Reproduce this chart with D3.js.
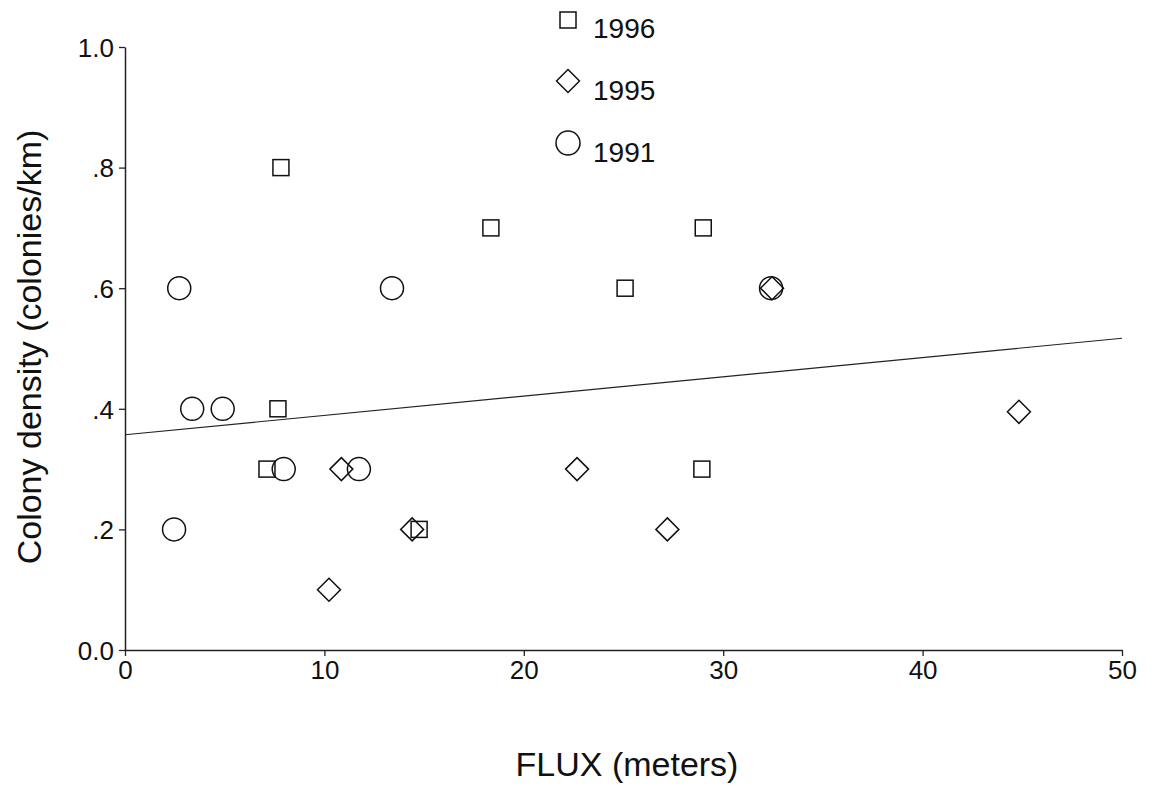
<!DOCTYPE html>
<html>
<head>
<meta charset="utf-8">
<script src="https://cdn.jsdelivr.net/npm/d3@7"></script>
<style>
html,body{margin:0;padding:0;background:#fff;}
svg{display:block;}
text{font-family:"Liberation Sans", Arial, sans-serif; fill:#111;}
</style>
</head>
<body>
<svg id="chart" width="1154" height="788"></svg>
<script>
// Data
const squares1996X = [7.82, 18.35, 29.0, 25.08, 7.67, 7.12, 14.75, 28.93];
const squares1996Y = [0.8, 0.7, 0.7, 0.6, 0.4, 0.3, 0.2, 0.3];
const diamonds1995X = [10.23, 10.85, 14.4, 22.67, 27.2, 32.45, 44.83];
const diamonds1995Y = [0.1, 0.3, 0.2, 0.3, 0.2, 0.6, 0.395];
const circles1991X = [2.46, 2.72, 3.37, 4.9, 7.96, 11.73, 13.39, 32.4];
const circles1991Y = [0.2, 0.6, 0.4, 0.4, 0.3, 0.3, 0.6, 0.6];
const fitX = [0, 50];
const fitY = [0.357, 0.517];
const xTicks = [0, 10, 20, 30, 40, 50];
const xTickLabels = ["0", "10", "20", "30", "40", "50"];
const yTicks = [0, 0.2, 0.4, 0.6, 0.8, 1.0];
const yTickLabels = ["0.0", ".2", ".4", ".6", ".8", "1.0"];
const legendLabels = ["1996", "1995", "1991"];

const svg = d3.select("#chart");
const x = d3.scaleLinear().domain([0, 50]).range([125, 1122]);
const y = d3.scaleLinear().domain([0, 1]).range([650, 47]);

// Axes
const xAxis = d3.axisBottom(x).tickValues(xTicks)
  .tickFormat((d, i) => xTickLabels[i]).tickSize(6).tickSizeOuter(0);
const yAxis = d3.axisLeft(y).tickValues(yTicks)
  .tickFormat((d, i) => yTickLabels[i]).tickSize(6).tickSizeOuter(0);

const gx = svg.append("g").attr("transform", "translate(0,650)").call(xAxis);
const gy = svg.append("g").attr("transform", "translate(125,0)").call(yAxis);
[gx, gy].forEach(g => {
  g.select(".domain").attr("stroke", "#222").attr("stroke-width", 1.5);
  g.selectAll(".tick line").attr("stroke", "#222").attr("stroke-width", 1.3);
  g.selectAll(".tick text").attr("font-size", 26)
    .attr("font-family", '"Liberation Sans", Arial, sans-serif').attr("fill", "#111");
});
gx.selectAll(".tick text").attr("dy", "0.71em").attr("y", 11);
gy.selectAll(".tick text").attr("x", -11).attr("dy", "0.36em");

// Fit line
const line = d3.line().x(d => x(d[0])).y(d => y(d[1]));
svg.append("path")
  .datum(fitX.map((v, i) => [v, fitY[i]]))
  .attr("d", line).attr("fill", "none").attr("stroke", "#222").attr("stroke-width", 1.2);

const stroke = "#111";
const sw = 1.5;
const sqSize = 16, diaHalf = 11.5, circR = 11.5;

function drawSquare(g, cx, cy, s) {
  g.append("rect").attr("x", cx - s / 2).attr("y", cy - s / 2).attr("width", s).attr("height", s)
    .attr("fill", "none").attr("stroke", stroke).attr("stroke-width", sw);
}
function drawDiamond(g, cx, cy, h) {
  g.append("path").attr("d", `M${cx},${cy - h}L${cx + h},${cy}L${cx},${cy + h}L${cx - h},${cy}Z`)
    .attr("fill", "none").attr("stroke", stroke).attr("stroke-width", sw);
}
function drawCircle(g, cx, cy, r) {
  g.append("circle").attr("cx", cx).attr("cy", cy).attr("r", r)
    .attr("fill", "none").attr("stroke", stroke).attr("stroke-width", sw);
}

const pts = svg.append("g");
circles1991X.forEach((v, i) => drawCircle(pts, x(v), y(circles1991Y[i]), circR));
squares1996X.forEach((v, i) => drawSquare(pts, x(v), y(squares1996Y[i]), sqSize));
diamonds1995X.forEach((v, i) => drawDiamond(pts, x(v), y(diamonds1995Y[i]), diaHalf));

// Legend
const lg = svg.append("g");
drawSquare(lg, 568, 20, 16);
drawDiamond(lg, 568, 81, 11.5);
drawCircle(lg, 568, 143, 12);
const legendY = [38, 100, 162];
legendLabels.forEach((t, i) => {
  lg.append("text").attr("x", 593).attr("y", legendY[i]).attr("font-size", 28).text(t);
});

// Axis titles
svg.append("text").attr("x", 627).attr("y", 776).attr("text-anchor", "middle")
  .attr("font-size", 34).text("FLUX (meters)");
svg.append("text").attr("transform", "translate(41,347) rotate(-90)")
  .attr("text-anchor", "middle").attr("font-size", 34).text("Colony density (colonies/km)");
</script>
</body>
</html>
